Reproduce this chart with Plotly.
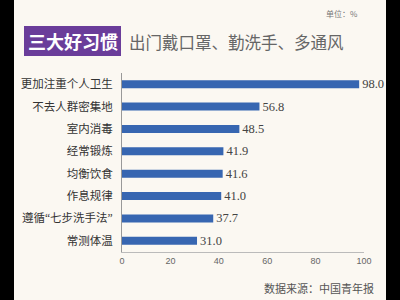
import plotly.graph_objects as go

categories = ["更加注重个人卫生", "不去人群密集地", "室内消毒", "经常锻炼",
              "均衡饮食", "作息规律", "遵循“七步洗手法”", "常测体温"]
values = [98.0, 56.8, 48.5, 41.9, 41.6, 41.0, 37.7, 31.0]
tick_vals = [0, 20, 40, 60, 80, 100]

W, H = 400, 300
L, R, T, B = 122, 36, 73, 48
pw = W - L - R
ph = H - T - B

def px(x):
    return (x - L) / pw

def py(y):
    return 1 - (y - T) / ph

fig = go.Figure()
fig.add_trace(go.Bar(
    x=values, y=categories, orientation="h",
    marker=dict(color="#3766B1", line=dict(width=0)),
    width=0.36,
    text=[f"{v:.1f}" for v in values], textposition="outside",
    constraintext="none",
    textfont=dict(family="Liberation Serif, Noto Sans CJK SC", size=12.5, color="#444444"),
    cliponaxis=False,
))

font_cjk = "Noto Sans CJK SC"
fig.update_layout(
    width=W, height=H,
    margin=dict(l=L, r=R, t=T, b=B, pad=0, autoexpand=False),
    paper_bgcolor="#FBF8F2", plot_bgcolor="#FBF8F2",
    showlegend=False,
    xaxis=dict(range=[0, 100], tickvals=tick_vals, showgrid=False, zeroline=False,
               showline=True, linecolor="#BBBBBB", linewidth=1, automargin=False,
               ticks="", tickfont=dict(family="Liberation Sans", size=9, color="#666666"),
               fixedrange=True),
    yaxis=dict(autorange="reversed", showgrid=False, zeroline=False, automargin=False,
               showline=True, linecolor="#999999", linewidth=1, ticks="",
               ticklabelstandoff=6,
               tickfont=dict(family="Liberation Serif, " + font_cjk, size=11.5, color="#333333"),
               fixedrange=True),
    font=dict(family=font_cjk),
)

# purple title box
fig.add_shape(type="rect", xref="paper", yref="paper",
              x0=px(24), x1=px(121), y0=py(56), y1=py(26),
              fillcolor="#6A3D9A", line=dict(width=0), layer="above")
fig.add_annotation(xref="paper", yref="paper", x=px(72.5), y=py(41),
                   text="<b>三大好习惯</b>", showarrow=False,
                   font=dict(family=font_cjk, size=18, color="white"),
                   xanchor="center", yanchor="middle")
fig.add_annotation(xref="paper", yref="paper", x=px(127), y=py(42),
                   text="出门戴口罩、勤洗手、多通风", showarrow=False,
                   font=dict(family=font_cjk, size=16.5, color="#666666"),
                   xanchor="left", yanchor="middle")
fig.add_annotation(xref="paper", yref="paper", x=px(360), y=py(13),
                   text="单位：%", showarrow=False,
                   font=dict(family=font_cjk, size=8, color="#777777"),
                   xanchor="right", yanchor="middle")
fig.add_annotation(xref="paper", yref="paper", x=px(376), y=py(288),
                   text="数据来源：中国青年报", showarrow=False,
                   font=dict(family=font_cjk, size=11, color="#555555"),
                   xanchor="right", yanchor="middle")

# black side borders
fig.add_shape(type="rect", xref="paper", yref="paper",
              x0=px(0), x1=px(14), y0=py(300), y1=py(0),
              fillcolor="black", line=dict(width=0), layer="above")
fig.add_shape(type="rect", xref="paper", yref="paper",
              x0=px(386), x1=px(400), y0=py(300), y1=py(0),
              fillcolor="black", line=dict(width=0), layer="above")

fig.write_html("out.html")
